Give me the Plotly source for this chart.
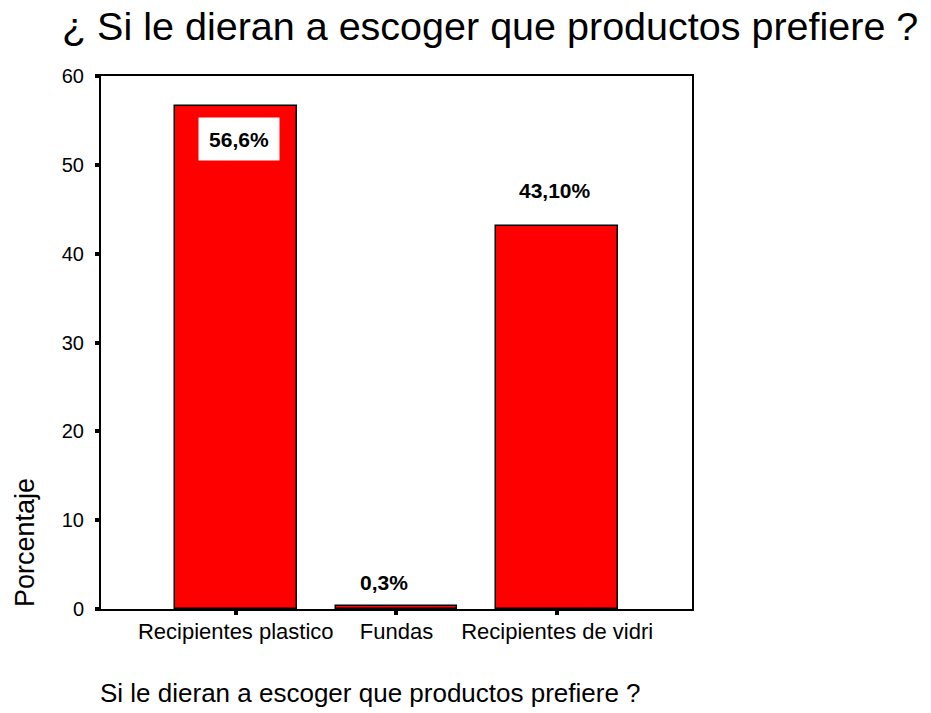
import plotly.graph_objects as go

# Survey answers: preferred product container
categories = ["Recipientes plastico", "Fundas", "Recipientes de vidri"]
percentages = [56.6, 0.3, 43.1]
value_labels = ["56,6%", "0,3%", "43,10%"]
y_ticks = [0, 10, 20, 30, 40, 50, 60]

title_text = "¿ Si le dieran a escoger que productos prefiere ?"
x_title_text = "Si le dieran a escoger que productos prefiere ?"
y_title_text = "Porcentaje"

# Plot area in pixels (for placing free text)
W, H = 931, 713
L, R, T, B = 101, 692, 76, 609


def px_x(px):
    return (px - L) / (R - L)


def px_y(py):
    return (B - py) / (B - T)


base_font = "Liberation Sans, Arial, sans-serif"
label_font = dict(family="Liberation Sans, Arial, sans-serif", size=21, color="black")

fig = go.Figure(
    go.Bar(
        x=categories,
        y=percentages,
        width=0.758,
        marker=dict(color="#ff0000", line=dict(color="black", width=1.5)),
        hoverinfo="x+y",
    )
)

# value labels: first inside a white box, others above the bars
fig.add_annotation(x=categories[0], y=percentages[0], text="<b>" + value_labels[0] + "</b>",
                   showarrow=False, yanchor="top", xanchor="center", xshift=3, yshift=-11,
                   bgcolor="white", width=80, height=42, borderpad=0, font=label_font)
fig.add_annotation(x=categories[1], y=percentages[1], text="<b>" + value_labels[1] + "</b>",
                   showarrow=False, yanchor="bottom", xanchor="center", xshift=-12, yshift=10,
                   font=label_font)
fig.add_annotation(x=categories[2], y=percentages[2], text="<b>" + value_labels[2] + "</b>",
                   showarrow=False, yanchor="bottom", xanchor="center", xshift=-2, yshift=22,
                   font=label_font)

# titles
fig.add_annotation(xref="paper", yref="paper", x=px_x(60), y=px_y(26), text=title_text,
                   showarrow=False, xanchor="left", yanchor="middle",
                   font=dict(family=base_font, size=39.5, color="black"))
fig.add_annotation(xref="paper", yref="paper", x=px_x(98), y=px_y(693), text=x_title_text,
                   showarrow=False, xanchor="left", yanchor="middle",
                   font=dict(family=base_font, size=26, color="black"))
fig.add_annotation(xref="paper", yref="paper", x=px_x(25), y=px_y(543), text=y_title_text,
                   showarrow=False, xanchor="center", yanchor="middle", textangle=-90,
                   font=dict(family=base_font, size=27, color="black"))

fig.update_layout(
    width=W, height=H,
    margin=dict(l=L, r=W - R, t=T, b=H - B, pad=0),
    paper_bgcolor="white", plot_bgcolor="white",
    showlegend=False,
    bargap=0,
)
fig.update_xaxes(
    type="category", range=[-0.8385, 2.839],
    showgrid=False, zeroline=False,
    showline=True, mirror=True, linecolor="black", linewidth=2,
    ticks="outside", ticklen=4, tickwidth=4, tickcolor="black",
    ticklabelstandoff=-2,
    tickfont=dict(family=base_font, size=22, color="black"),
)
fig.update_yaxes(
    range=[0, 60], tickvals=y_ticks,
    showgrid=False, zeroline=False,
    showline=True, mirror=True, linecolor="black", linewidth=2,
    ticks="outside", ticklen=4, tickwidth=4, tickcolor="black",
    ticklabelstandoff=7,
    tickfont=dict(family=base_font, size=20, color="black"),
)

fig.write_html("out.html")
